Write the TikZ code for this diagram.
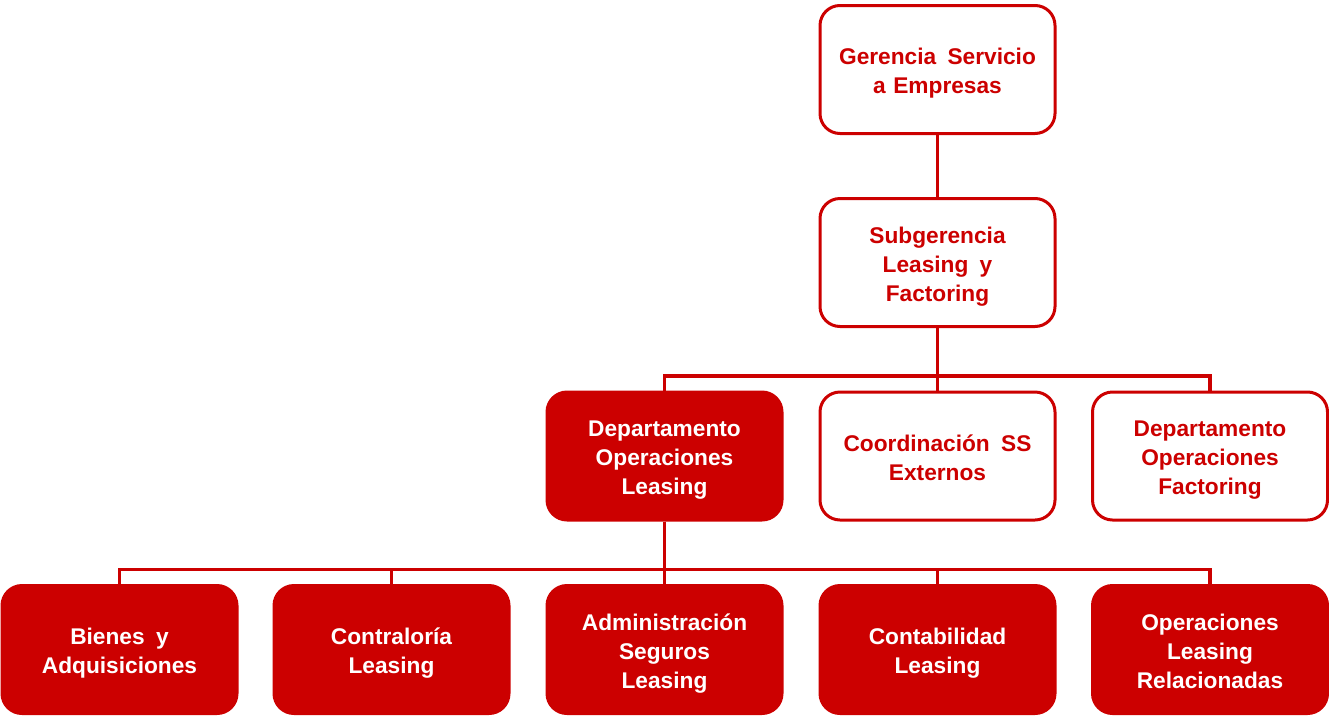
\documentclass[tikz,border=0pt]{standalone}
\usepackage{fontspec}
\setmainfont{Liberation Sans}
\definecolor{rojo}{HTML}{CC0000}
\newcommand{\topst}{\rule{0pt}{26pt}}
\newcommand{\botst}{\rule[-7pt]{0pt}{7pt}}
\newcommand{\wsp}{\hspace{0.5em}}
\tikzset{
  box/.style={rounded corners=20pt, line width=3pt, draw=rojo, minimum width=235pt, minimum height=128pt,
    align=center, text width=230pt, font=\fontsize{22.7pt}{29pt}\selectfont\bfseries, inner sep=0pt},
  openbox/.style={box, fill=white, text=rojo},
  fullbox/.style={box, fill=rojo, text=white},
  link/.style={draw=rojo, line width=3.5pt}
}
\begin{document}
\begin{tikzpicture}[x=1pt,y=-1pt]
\useasboundingbox (0,0) rectangle (1329,715);
\node[openbox] (ger) at (937.5,69.5) {\topst Gerencia\wsp Servicio\\a Empresas\botst};
\node[openbox] (sub) at (937.5,262.5) {\topst Subgerencia\\Leasing\wsp y\\Factoring\botst};
\node[fullbox] (dol) at (664.5,456) {\topst Departamento\\Operaciones\\Leasing\botst};
\node[openbox] (coo) at (937.5,456) {\topst Coordinación\wsp SS\\Externos\botst};
\node[openbox] (dof) at (1210,456) {\topst Departamento\\Operaciones\\Factoring\botst};
\node[fullbox] (bie) at (119.5,649.5) {\topst Bienes\wsp y\\Adquisiciones\botst};
\node[fullbox] (con) at (391.5,649.5) {\topst Contraloría\\Leasing\botst};
\node[fullbox] (adm) at (664.5,649.5) {\topst Administración\\Seguros\\Leasing\botst};
\node[fullbox] (cnt) at (937.5,649.5) {\topst Contabilidad\\Leasing\botst};
\node[fullbox] (opr) at (1210,649.5) {\topst Operaciones\\Leasing\\Relacionadas\botst};
\draw[link] (ger.south) -- (sub.north);
\draw[link] (sub.south) -- (coo.north);
\draw[link] (sub.south) -- ++(0,48) -| (dol.north);
\draw[link] (sub.south) -- ++(0,48) -| (dof.north);
\draw[link] (dol.south) -- (adm.north);
\draw[link] (dol.south) -- ++(0,48) -| (bie.north);
\draw[link] (dol.south) -- ++(0,48) -| (con.north);
\draw[link] (dol.south) -- ++(0,48) -| (cnt.north);
\draw[link] (dol.south) -- ++(0,48) -| (opr.north);
\end{tikzpicture}
\end{document}
